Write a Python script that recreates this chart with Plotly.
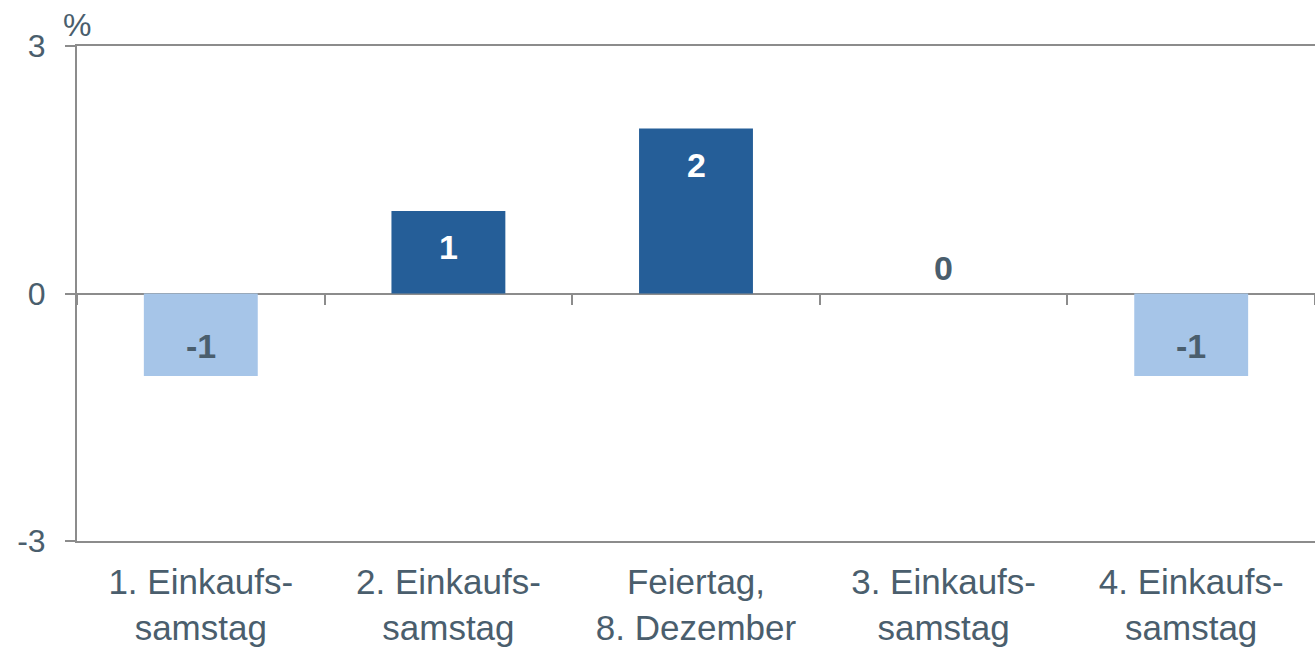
import plotly.graph_objects as go

categories = ["1. Einkaufs-<br>samstag", "2. Einkaufs-<br>samstag", "Feiertag,<br>8. Dezember",
              "3. Einkaufs-<br>samstag", "4. Einkaufs-<br>samstag"]
values = [-1, 1, 2, 0, -1]
labels = ["-1", "1", "2", "0", "-1"]

DARK = "#255E98"
LIGHT = "#A6C5E8"
TEXT = "#4A5E6D"
AXIS = "#8C8C8C"
FONT = "Liberation Sans, Arial, sans-serif"

colors = [DARK if v > 0 else LIGHT for v in values]

fig = go.Figure()
fig.add_trace(go.Bar(x=categories, y=values, marker=dict(color=colors, line=dict(width=0)),
                     hoverinfo="skip", showlegend=False))
# invisible trace to carry the category tick axis at the zero line
fig.add_trace(go.Scatter(x=categories, y=values, xaxis="x2", mode="markers",
                         marker=dict(opacity=0), hoverinfo="skip", showlegend=False))

for c, v, t in zip(categories, values, labels):
    if v > 0:
        shift, col = -36, "white"
    elif v < 0:
        shift, col = 30, TEXT
    else:
        shift, col = 26, TEXT
    fig.add_annotation(x=c, y=v, text=t, showarrow=False, yshift=shift,
                       font=dict(family=FONT, size=34, color=col, weight="bold"))

fig.add_annotation(xref="paper", yref="paper", x=0, y=1, yanchor="bottom", xanchor="center",
                   text="%", showarrow=False, yshift=1,
                   font=dict(family=FONT, size=32, color=TEXT))

fig.update_layout(
    width=1315, height=649,
    margin=dict(l=77, r=0, t=46, b=108),
    paper_bgcolor="white", plot_bgcolor="white",
    bargap=0.54,
    font=dict(family=FONT, size=32, color=TEXT),
    xaxis=dict(showline=True, mirror=True, linecolor=AXIS, linewidth=2,
               showgrid=False, zeroline=False, ticks="", ticklabelstandoff=9,
               automargin=False, tickfont=dict(size=35, color=TEXT)),
    xaxis2=dict(overlaying="x", anchor="free", position=0.5, matches="x",
                showline=False, showgrid=False, zeroline=False, automargin=False,
                ticks="outside", tickson="boundaries", ticklen=10, tickwidth=2,
                tickcolor=AXIS, showticklabels=False),
    yaxis=dict(range=[-3, 3], tickvals=[-3, 0, 3], ticktext=["-3", "0", "3"],
               showline=True, linecolor=AXIS, linewidth=2, automargin=False,
               showgrid=False, zeroline=True, zerolinecolor=AXIS, zerolinewidth=2,
               ticks="outside", ticklen=10, tickwidth=2, tickcolor=AXIS,
               ticklabelstandoff=13, tickfont=dict(size=32, color=TEXT)),
)

fig.write_html("out.html", config={"displayModeBar": False},
               post_script="document.body.style.margin='0';")
